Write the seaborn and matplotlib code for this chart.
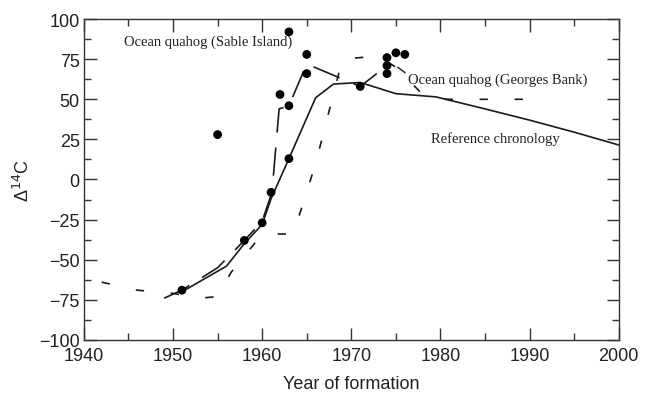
import pandas as pd
import matplotlib.pyplot as plt
from matplotlib.ticker import MultipleLocator
import seaborn as sns

# Reference chronology (solid line)
ref_year = [1951, 1956, 1958, 1960, 1961, 1963, 1966, 1968, 1971, 1975, 1979.5, 1985, 1990, 1995, 2000]
ref_d14c = [-70, -54, -40, -28, -12, 13, 51, 59.5, 60.5, 53.5, 51.5, 44, 37, 29.5, 21.5]

# Ocean quahog, Sable Island (long dashes)
sable_year = [1949, 1951, 1955, 1958, 1960, 1961.1, 1961.9, 1963, 1965, 1971, 1974]
sable_d14c = [-74, -69, -55, -38, -26, -8, 44, 46, 72, 58, 71]

# Ocean quahog, Georges Bank (short dashes)
georges_year = [1942, 1946, 1950, 1953, 1955, 1956.5, 1960, 1963.5, 1966, 1969, 1973, 1975, 1978, 1980, 1990]
georges_d14c = [-64, -69, -71, -74, -73, -58, -34, -34, 10, 75, 77, 70, 53, 50, 50]

# sample points
dot_year = [1951, 1955, 1958, 1960, 1961, 1962, 1963, 1963, 1963, 1965, 1965, 1971, 1974, 1974, 1974, 1975, 1976]
dot_d14c = [-69, 28, -38, -27, -8, 53, 13, 46, 92, 78, 66, 58, 76, 71, 66, 79, 78]

ref = pd.DataFrame({'year': ref_year, 'd14c': ref_d14c})
sable = pd.DataFrame({'year': sable_year, 'd14c': sable_d14c})
georges = pd.DataFrame({'year': georges_year, 'd14c': georges_d14c})
dots = pd.DataFrame({'year': dot_year, 'd14c': dot_d14c})

sns.set_style('ticks')
plt.rcParams['font.family'] = ['Liberation Sans', 'DejaVu Sans']

fig = plt.figure(figsize=(6.5, 4.02), dpi=100)
ax = fig.add_axes([0.129, 0.152, 0.823, 0.798])

ink = '#1a1a1a'
sns.lineplot(data=ref, x='year', y='d14c', color=ink, linewidth=1.2, sort=False, ax=ax)
sns.lineplot(data=sable, x='year', y='d14c', color=ink, linewidth=1.2, sort=False, ax=ax,
             linestyle=(0, (17, 9)))
sns.lineplot(data=georges, x='year', y='d14c', color=ink, linewidth=1.2, sort=False, ax=ax,
             linestyle=(0, (5, 16)))
sns.scatterplot(data=dots, x='year', y='d14c', color='black', s=40, edgecolor='none', ax=ax, zorder=5)

ax.set_xlim(1940, 2000)
ax.set_ylim(-100, 100)
ax.xaxis.set_major_locator(MultipleLocator(10))
ax.xaxis.set_minor_locator(MultipleLocator(5))
ax.yaxis.set_major_locator(MultipleLocator(25))
ax.yaxis.set_minor_locator(MultipleLocator(12.5))
ax.tick_params(which='both', direction='in', top=True, right=True, colors='#333333',
               labelcolor='#222222', labelsize=13)
ax.tick_params(which='major', length=9, width=1)
ax.tick_params(which='minor', length=5, width=1)
ax.tick_params(axis='x', pad=5)
ax.tick_params(axis='y', pad=3)
for sp in ax.spines.values():
    sp.set_color('#333333')
    sp.set_linewidth(1)

ax.set_yticklabels([str(int(v)).replace('-', '\u2212') for v in ax.get_yticks()])

ax.set_xlabel('Year of formation', fontsize=13, color='#222222', labelpad=8)
ax.set_ylabel('\u0394$^{14}$C', fontsize=13, color='#222222', labelpad=4)

serif = ['Liberation Serif', 'DejaVu Serif']
ax.text(1944.5, 86, 'Ocean quahog (Sable Island)', family=serif, fontsize=10.5,
        color='#222222', va='center')
ax.annotate('Ocean quahog (Georges Bank)', xy=(1975.2, 70), xytext=(1976.4, 62.5),
            family=serif, fontsize=10.5, color='#222222', va='center',
            arrowprops=dict(arrowstyle='-', color=ink, lw=1, shrinkA=0, shrinkB=0,
                            relpos=(0, 0.8)))
ax.text(1978.9, 26, 'Reference chronology', family=serif, fontsize=10.5,
        color='#222222', va='center')

fig.savefig('out.png', dpi=100)
